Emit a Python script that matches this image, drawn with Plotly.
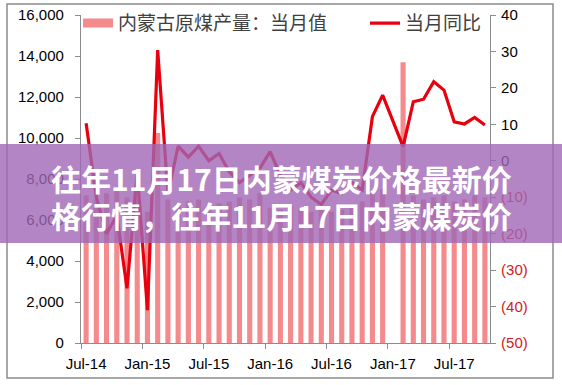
import plotly.graph_objects as go

months = (["Jul-14", "Aug-14", "Sep-14", "Oct-14", "Nov-14", "Dec-14"]
          + [f"{m}-15" for m in ["Jan", "Feb", "Mar", "Apr", "May", "Jun", "Jul", "Aug", "Sep", "Oct", "Nov", "Dec"]]
          + [f"{m}-16" for m in ["Jan", "Feb", "Mar", "Apr", "May", "Jun", "Jul", "Aug", "Sep", "Oct", "Nov", "Dec"]]
          + [f"{m}-17" for m in ["Jan", "Feb", "Mar", "Apr", "May", "Jun", "Jul", "Aug", "Sep", "Oct"]])

output_monthly = [7200, 7000, 7300, 7400, 7100, 7600,
                  6400, 10240, 7000, 6800, 6900, 7000, 6700, 6800, 6900, 7100, 7000, 7300,
                  6600, 6500, 6700, 6500, 6400, 6500, 6400, 6500, 6700, 6900, 7300, 7500,
                  None, 13700, 7200, 7000, 7100, 7200, 6900, 7000, 7200, 7100]

yoy = [10.3, -10, -20, -15, -35, -3,
       -41, 30.4, -9, 4, 1, 4, 0, 2, -3, -6, -4, -2,
       2.5, -4, -8, -6, -10, -12, -8, -9, -6, -8, 12.1, 18,
       None, 3.9, 16.2, 16.9, 21.7, 19.4, 10.7, 10.1, 11.9, 9.8]

left_ticks = [0, 2000, 4000, 6000, 8000, 10000, 12000, 14000, 16000]
right_ticks = [-50, -40, -30, -20, -10, 0, 10, 20, 30, 40]

name_bar = "内蒙古原煤产量：当月值"
name_line = "当月同比"
title_line1 = "往年11月17日内蒙煤炭价格最新价"
title_line2 = "格行情，往年11月17日内蒙煤炭价"

BAR = "#F58A8C"
RED = "#E8000E"
NEG = "#D42020"
AX = "#8C8C8C"

right_text = [str(v) if v >= 0 else f'<span style="color:{NEG}">({-v})</span>' for v in right_ticks]
left_text = [f"{v:,}" for v in left_ticks]

fig = go.Figure()
fig.add_trace(go.Bar(x=months, y=output_monthly, marker_color=BAR, marker_line_width=0,
                     width=0.5, showlegend=False, yaxis="y"))
fig.add_trace(go.Scatter(x=[None], y=[None], mode="lines", line=dict(color=BAR, width=9),
                         name=name_bar, showlegend=True, legend="legend"))
fig.add_trace(go.Scatter(x=months, y=yoy, mode="lines", line=dict(color=RED, width=3.2),
                         connectgaps=True, name=name_line, yaxis="y2", legend="legend2"))

font_main = "Liberation Sans, Arial, sans-serif"
legend_font = dict(family="Noto Sans CJK SC", size=19, color="#404040")

fig.update_layout(
    width=562, height=385,
    margin=dict(l=81, r=72, t=15, b=42, autoexpand=False),
    paper_bgcolor="white", plot_bgcolor="white",
    font=dict(family=font_main, size=15, color="#000000"),
    showlegend=True,
    legend=dict(orientation="h", x=-0.0073, y=1.033, xanchor="left", yanchor="top",
                font=legend_font, bgcolor="rgba(0,0,0,0)", itemwidth=30),
    legend2=dict(orientation="h", x=(365 - 81) / 409, y=1.033, xanchor="left", yanchor="top",
                 font=legend_font, bgcolor="rgba(0,0,0,0)", itemwidth=30),
    xaxis=dict(type="category", categoryorder="array", categoryarray=months,
               range=[-0.5, len(months) - 0.5], tickmode="linear", tick0=0, dtick=6,
               tickson="boundaries", ticks="outside", ticklen=5, tickcolor=AX, tickangle=0,
               showline=True, linecolor=AX, linewidth=1.2, showgrid=False, zeroline=False,
               tickfont=dict(size=15), automargin=False, ticklabelstandoff=7),
    yaxis=dict(range=[0, 16000], tickvals=left_ticks, ticktext=left_text,
               ticks="outside", ticklen=5, tickcolor=AX, showline=True, linecolor=AX,
               linewidth=1.2, showgrid=False, zeroline=False, ticklabelstandoff=8,
               automargin=False),
    yaxis2=dict(range=[-50, 40], tickvals=right_ticks, ticktext=right_text,
                overlaying="y", side="right", ticks="outside", ticklen=5, tickcolor=AX,
                showline=True, linecolor=AX, linewidth=1.2, showgrid=False, zeroline=False,
                ticklabelstandoff=2, automargin=False),
    bargap=0.5,
)

# outer frame
fig.add_shape(type="rect", xref="paper", yref="paper",
              x0=(7 - 81) / 409, x1=(553 - 81) / 409, y0=(343 - 378) / 328, y1=(343 - 4) / 328,
              line=dict(color="#8C8C8C", width=1.5), fillcolor="rgba(0,0,0,0)", layer="below")

# purple banner
fig.add_shape(type="rect", xref="paper", yref="paper",
              x0=-81 / 409, x1=(562 - 81) / 409, y0=(343 - 243) / 328, y1=(343 - 144) / 328,
              line=dict(width=0), fillcolor="rgba(160,102,181,0.8)", layer="above")

title_font = dict(family="Noto Sans CJK SC", size=30, color="white", weight="bold")
for txt, yc in ((title_line1, 177.5), (title_line2, 215)):
    fig.add_annotation(xref="paper", yref="paper", x=(281 - 81) / 409, y=(343 - yc) / 328,
                       xanchor="center", yanchor="middle", showarrow=False,
                       text=txt, font=title_font)

fig.write_html("out.html", config={"displayModeBar": False},
               post_script="document.body.style.margin='0';")
